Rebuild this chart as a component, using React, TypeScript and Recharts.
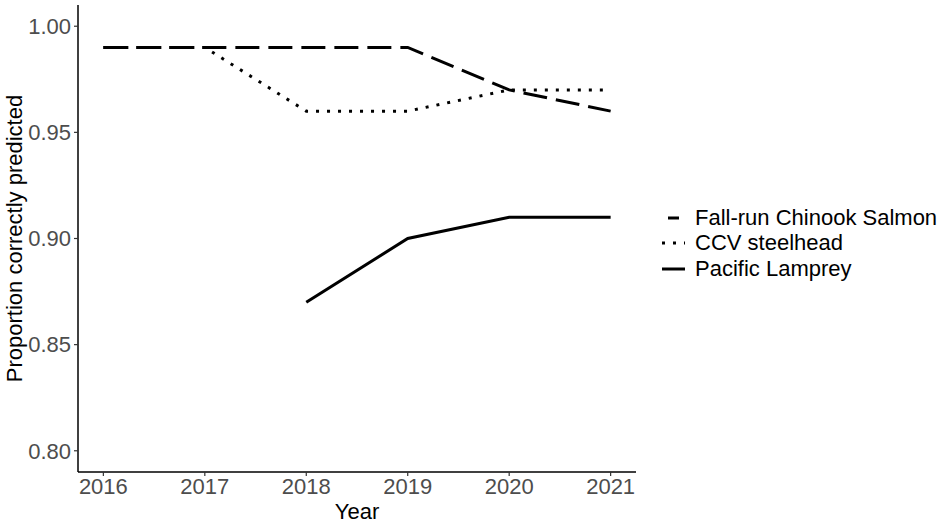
import React from 'react';
import { LineChart, Line, XAxis, YAxis, Label } from 'recharts';

// Data
const years = [2016, 2017, 2018, 2019, 2020, 2021];
const chinook = [0.99, 0.99, 0.99, 0.99, 0.97, 0.96];
const steelhead = [0.99, 0.99, 0.96, 0.96, 0.97, 0.97];
const lamprey = [null, null, 0.87, 0.9, 0.91, 0.91];
const yTicks = [0.8, 0.85, 0.9, 0.95, 1.0];

const seriesInfo = [
  { key: 'chinook', name: 'Fall-run Chinook Salmon', dash: '24 9' },
  { key: 'steelhead', name: 'CCV steelhead', dash: '3 8' },
  { key: 'lamprey', name: 'Pacific Lamprey', dash: undefined },
];

const chartData = years.map((year, i) => ({
  year,
  chinook: chinook[i],
  steelhead: steelhead[i],
  lamprey: lamprey[i],
}));

const FONT = '"Liberation Sans", Arial, sans-serif';

// ggplot-like legend on the right side
const LegendBox = () => (
  <div style={{ position: 'absolute', left: 660, top: 205, fontFamily: FONT }}>
    {seriesInfo.map((s, i) => (
      <div key={s.key} style={{ display: 'flex', alignItems: 'center', height: 25.5 }}>
        <svg width={26} height={20}>
          <line
            x1={2}
            x2={25}
            y1={10}
            y2={10}
            stroke="#000"
            strokeWidth={3}
            strokeDasharray={i === 0 ? '0 6 11 20' : s.dash}
          />
        </svg>
        <span style={{ fontSize: 22, marginLeft: 9, color: '#000', whiteSpace: 'nowrap' }}>{s.name}</span>
      </div>
    ))}
  </div>
);

export default function App() {
  return (
    <div style={{ position: 'absolute', left: 0, top: 0, width: 948, height: 524, background: '#fff' }}>
      <LineChart
        width={948}
        height={524}
        data={chartData}
        margin={{ top: 5, right: 312, bottom: 0, left: 0 }}
        style={{ fontFamily: FONT }}
      >
        <XAxis
          dataKey="year"
          type="number"
          domain={[2015.75, 2021.25]}
          ticks={years}
          allowDataOverflow
          height={52}
          tickSize={4}
          tickMargin={2}
          axisLine={{ stroke: '#000', strokeWidth: 1.5 }}
          tickLine={{ stroke: '#333', strokeWidth: 1.2 }}
          tick={{ fill: '#4d4d4d', fontSize: 22 }}
        >
          <Label value="Year" position="insideBottom" offset={5} style={{ fill: '#000', fontSize: 22 }} />
        </XAxis>
        <YAxis
          type="number"
          domain={[0.79, 1.01]}
          ticks={yTicks}
          allowDataOverflow
          width={78}
          tickSize={4}
          tickMargin={3}
          tickFormatter={(v: number) => v.toFixed(2)}
          axisLine={{ stroke: '#000', strokeWidth: 1.5 }}
          tickLine={{ stroke: '#333', strokeWidth: 1.2 }}
          tick={{ fill: '#4d4d4d', fontSize: 22 }}
        >
          <Label
            value="Proportion correctly predicted"
            angle={-90}
            position="insideLeft"
            offset={14}
            style={{ fill: '#000', fontSize: 22, textAnchor: 'middle' }}
          />
        </YAxis>
        {seriesInfo.map((s) => (
          <Line
            key={s.key}
            dataKey={s.key}
            name={s.name}
            type="linear"
            stroke="#000"
            strokeWidth={3}
            strokeDasharray={s.dash}
            dot={false}
            activeDot={false}
            connectNulls={false}
            isAnimationActive={false}
          />
        ))}
      </LineChart>
      <LegendBox />
    </div>
  );
}
